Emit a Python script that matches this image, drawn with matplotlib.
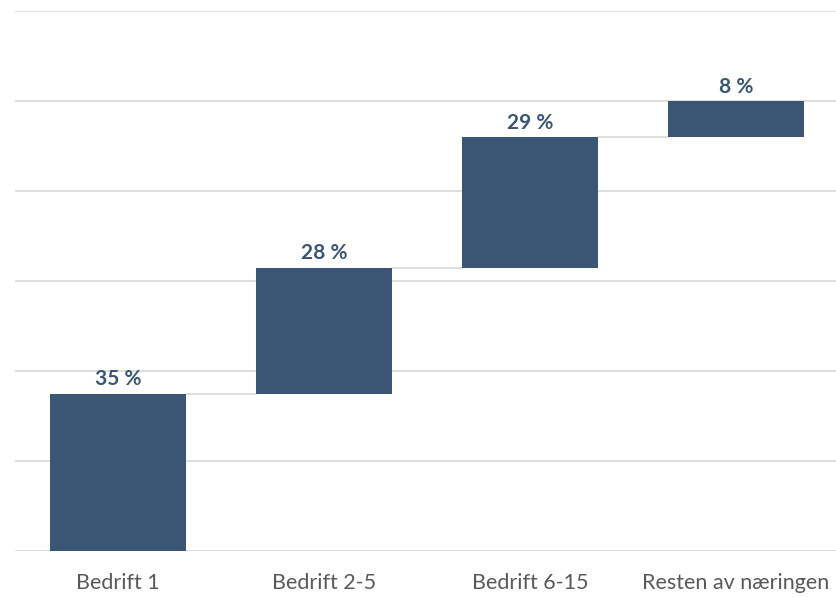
import matplotlib

matplotlib.use("Agg")

import matplotlib.pyplot as plt
import numpy as np

# Andel per gruppe (prosent)
kategorier = ["Bedrift 1", "Bedrift 2-5", "Bedrift 6-15", "Resten av næringen"]
andeler = [35, 28, 29, 8]
etiketter = ["35 %", "28 %", "29 %", "8 %"]

farge_stolpe = "#3A5674"
farge_grid = "#D9D9D9"

plt.rcParams["font.family"] = ["Lato", "DejaVu Sans"]

fig = plt.figure(figsize=(8.37, 5.97), dpi=100)
ax = fig.add_axes([0.018, 0.077, 0.982, 0.9045])

x = np.arange(len(kategorier))
bunn = np.concatenate([[0], np.cumsum(andeler)[:-1]])
topp = bunn + np.array(andeler)

ax.bar(x, andeler, bottom=bunn, width=0.66, color=farge_stolpe, zorder=3)

# Forbindelseslinjer mellom stolpene
for i in range(len(x) - 1):
    ax.plot([x[i] + 0.33, x[i + 1] - 0.33], [topp[i], topp[i]],
            color=farge_grid, linewidth=1.2, zorder=2)

for xi, t, tekst in zip(x, topp, etiketter):
    ax.annotate(tekst, (xi, t), xytext=(0, 3), textcoords="offset points",
                ha="center", va="bottom", fontsize=15, fontweight="bold",
                color=farge_stolpe)

ax.set_ylim(0, 120)
ax.set_xlim(-0.5, 3.49)
ax.set_yticks(np.arange(0, 121, 20))
ax.yaxis.grid(True, color=farge_grid, linewidth=1.2, zorder=0)
ax.set_axisbelow(True)
ax.tick_params(axis="y", left=False, labelleft=False)
ax.tick_params(axis="x", bottom=False, labelsize=15.5, labelcolor="#595959", pad=12)
ax.set_xticks(x)
ax.set_xticklabels(kategorier)
for s in ax.spines.values():
    s.set_visible(False)

fig.savefig("out.png", dpi=100)
